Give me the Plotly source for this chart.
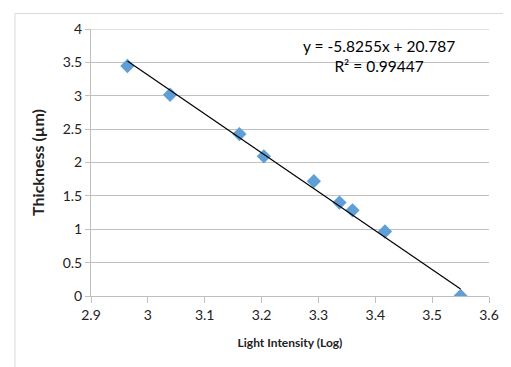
import plotly.graph_objects as go

light_log = [2.964, 3.039, 3.161, 3.204, 3.292, 3.337, 3.360, 3.417, 3.550]
thickness = [3.446, 3.015, 2.426, 2.093, 1.720, 1.400, 1.284, 0.966, 0.0]
slope = -5.8255
intercept = 20.787
r2 = 0.99447
x_ticks = [2.9, 3.0, 3.1, 3.2, 3.3, 3.4, 3.5, 3.6]
x_tick_text = ["2.9", "3", "3.1", "3.2", "3.3", "3.4", "3.5", "3.6"]
y_ticks = [0, 0.5, 1, 1.5, 2, 2.5, 3, 3.5, 4]
y_tick_text = ["0", "0.5", "1", "1.5", "2", "2.5", "3", "3.5", "4"]

font_family = "Lato, 'Open Sans', sans-serif"

x_ends = [min(light_log), max(light_log)]
y_ends = [slope * v + intercept for v in x_ends]

fig = go.Figure()
fig.add_trace(go.Scatter(
    x=light_log, y=thickness, mode="markers",
    marker=dict(symbol="diamond", size=11, color="#5f9fd6", line=dict(width=0)),
    showlegend=False, hoverinfo="skip"))
fig.add_trace(go.Scatter(
    x=x_ends, y=y_ends, mode="lines",
    line=dict(color="black", width=1.2),
    showlegend=False, hoverinfo="skip"))

fig.add_annotation(
    x=3.406, y=3.6, xref="x", yref="y",
    text=f"y = {slope}x + {intercept}<br>R² = {r2}",
    showarrow=False, align="center",
    font=dict(family=font_family, size=15.5, color="black"))

# top gridline at y=4
fig.add_shape(type="line", xref="paper", yref="y",
              x0=0, x1=1, y0=4, y1=4,
              line=dict(color="#c0c0c0", width=1), layer="below")

# chart frame (light gray) lines
fig.add_shape(type="line", xref="paper", yref="paper",
              x0=-0.191, x1=1.1, y0=1.058, y1=1.058,
              line=dict(color="#d9d9d9", width=1))
fig.add_shape(type="line", xref="paper", yref="paper",
              x0=-0.191, x1=-0.191, y0=1.058, y1=-0.3,
              line=dict(color="#d9d9d9", width=1))

fig.update_layout(
    width=503, height=359,
    margin=dict(l=83, r=14, t=16, b=71),
    paper_bgcolor="white", plot_bgcolor="white",
    font=dict(family=font_family, size=14, color="#222"),
    xaxis=dict(range=[2.9, 3.6], tickvals=x_ticks, ticktext=x_tick_text,
               showgrid=False, zeroline=False, showline=True,
               linecolor="#bfbfbf", linewidth=1,
               ticks="outside", ticklen=6, tickcolor="#bfbfbf",
               tickfont=dict(size=14),
               title=dict(text="<b>Light Intensity (Log)</b>",
                          font=dict(size=12, color="#222"), standoff=16)),
    yaxis=dict(range=[0, 4], tickvals=y_ticks, ticktext=y_tick_text,
               showgrid=True, gridcolor="#c0c0c0", gridwidth=1,
               zeroline=False, showline=True, linecolor="#bfbfbf", linewidth=1,
               ticks="outside", ticklen=5, tickcolor="#bfbfbf",
               tickfont=dict(size=14),
               title=dict(text="<b>Thickness (µm)</b>",
                          font=dict(size=16, color="#222"), standoff=14)),
)

fig.write_html("out.html")
